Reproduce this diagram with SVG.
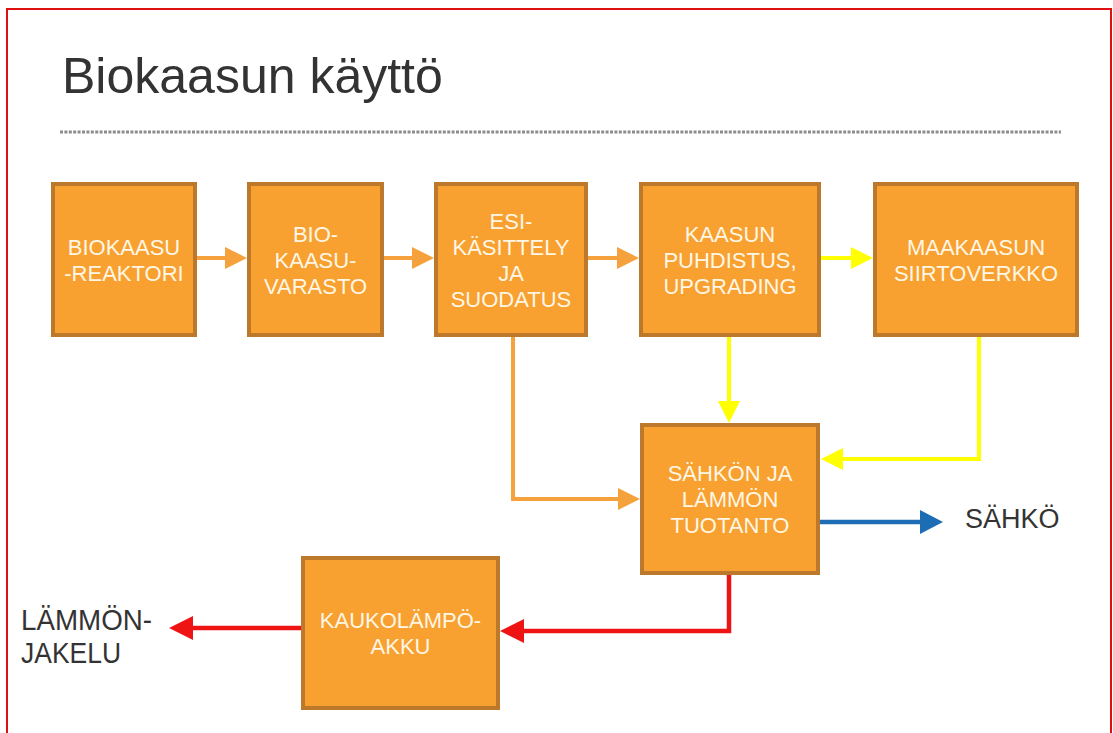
<svg xmlns="http://www.w3.org/2000/svg" width="1113" height="733" viewBox="0 0 1113 733">
<defs>
<style>
.box{fill:#F8A030;stroke:#BD792B;stroke-width:4}
.bt{font-family:"Liberation Sans",Arial,sans-serif;font-size:22px;fill:#FFF7E6;text-anchor:middle}
.lbl{font-family:"Liberation Sans",Arial,sans-serif;fill:#333333}
.c{fill:none;stroke-width:4}
.or{stroke:#F6A23C}
.ye{stroke:#FFFF00}
.bl{stroke:#1C6DB4;stroke-width:4.5}
.rd{stroke:#EE1414;stroke-width:4.5}
</style>
<marker id="aO" markerUnits="userSpaceOnUse" markerWidth="22" markerHeight="22" refX="16" refY="11" orient="auto"><path d="M0,0 L22,11 L0,22 z" fill="#F6A23C"/></marker>
<marker id="aY" markerUnits="userSpaceOnUse" markerWidth="22" markerHeight="22" refX="16" refY="11" orient="auto"><path d="M0,0 L22,11 L0,22 z" fill="#FFFF00"/></marker>
<marker id="aB" markerUnits="userSpaceOnUse" markerWidth="24" markerHeight="24" refX="17" refY="12" orient="auto"><path d="M0,0 L23,12 L0,24 z" fill="#1C6DB4"/></marker>
<marker id="aR" markerUnits="userSpaceOnUse" markerWidth="24" markerHeight="24" refX="18" refY="12" orient="auto"><path d="M0,0 L24,12 L0,24 z" fill="#EE1414"/></marker>
</defs>
<rect x="0" y="0" width="1113" height="733" fill="#FFFFFF"/>
<rect x="7" y="9" width="1104" height="740" fill="none" stroke="#E01010" stroke-width="2"/>
<text class="lbl" x="62" y="93" font-size="50">Biokaasun käyttö</text>
<line x1="60" y1="132" x2="1061" y2="132" stroke="#8C8C8C" stroke-width="3" stroke-dasharray="3 1.4"/>

<g id="connectors">
<path class="c or" d="M197,258 H241" marker-end="url(#aO)"/>
<path class="c or" d="M384,258 H428" marker-end="url(#aO)"/>
<path class="c or" d="M588,258 H633" marker-end="url(#aO)"/>
<path class="c ye" d="M821,258 H867" marker-end="url(#aY)"/>
<path class="c ye" d="M729,337 V417" marker-end="url(#aY)"/>
<path class="c ye" d="M979,337 V459 H827" marker-end="url(#aY)"/>
<path class="c or" d="M513,337 V499 H634" marker-end="url(#aO)"/>
<path class="c bl" d="M820,522 H937" marker-end="url(#aB)"/>
<path class="c rd" d="M729,575 V631 H506" marker-end="url(#aR)"/>
<path class="c rd" d="M301,628 H175" marker-end="url(#aR)"/>
</g>

<g id="n-reaktori">
<rect class="box" x="53" y="184" width="142" height="151"/>
<text class="bt" x="124" y="254.5">BIOKAASU</text>
<text class="bt" x="124" y="280.5">-REAKTORI</text>
</g>
<g id="n-varasto">
<rect class="box" x="249" y="184" width="133" height="151"/>
<text class="bt" x="315.5" y="241.5">BIO-</text>
<text class="bt" x="315.5" y="267.5">KAASU-</text>
<text class="bt" x="315.5" y="293.5">VARASTO</text>
</g>
<g id="n-esikasittely">
<rect class="box" x="436" y="184" width="150" height="151"/>
<text class="bt" x="511" y="228.5">ESI-</text>
<text class="bt" x="511" y="254.5">KÄSITTELY</text>
<text class="bt" x="511" y="280.5">JA</text>
<text class="bt" x="511" y="306.5">SUODATUS</text>
</g>
<g id="n-puhdistus">
<rect class="box" x="641" y="184" width="178" height="151"/>
<text class="bt" x="730" y="241.5">KAASUN</text>
<text class="bt" x="730" y="267.5">PUHDISTUS,</text>
<text class="bt" x="730" y="293.5">UPGRADING</text>
</g>
<g id="n-siirtoverkko">
<rect class="box" x="875" y="184" width="202" height="151"/>
<text class="bt" x="976" y="254.5">MAAKAASUN</text>
<text class="bt" x="976" y="280.5">SIIRTOVERKKO</text>
</g>
<g id="n-tuotanto">
<rect class="box" x="642" y="425" width="176" height="148"/>
<text class="bt" x="730" y="481">SÄHKÖN JA</text>
<text class="bt" x="730" y="507">LÄMMÖN</text>
<text class="bt" x="730" y="533">TUOTANTO</text>
</g>
<g id="n-akku">
<rect class="box" x="303" y="558" width="195" height="150"/>
<text class="bt" x="400.5" y="628">KAUKOLÄMPÖ-</text>
<text class="bt" x="400.5" y="654">AKKU</text>
</g>
<g id="n-sahko">
<text class="lbl" x="965" y="528" font-size="27">SÄHKÖ</text>
</g>
<g id="n-jakelu">
<text class="lbl" x="21" y="630" font-size="29" textLength="131" lengthAdjust="spacingAndGlyphs">LÄMMÖN-</text>
<text class="lbl" x="21" y="663" font-size="29" textLength="100" lengthAdjust="spacingAndGlyphs">JAKELU</text>
</g>
</svg>
